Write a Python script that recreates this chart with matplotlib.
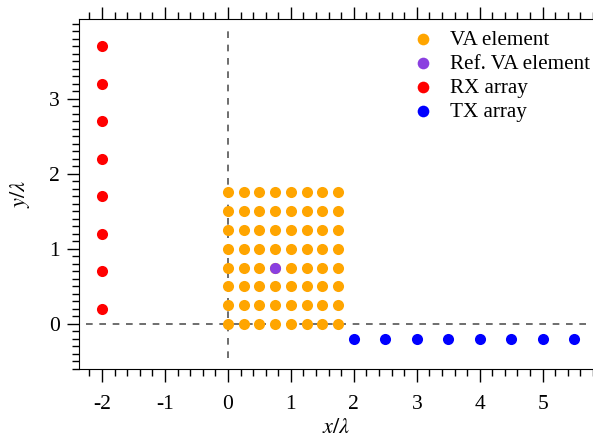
import numpy as np
import matplotlib.pyplot as plt
from matplotlib.ticker import MultipleLocator

plt.rcParams['font.family'] = ['Liberation Serif', 'DejaVu Serif']
plt.rcParams['mathtext.fontset'] = 'stix'
plt.rcParams['axes.unicode_minus'] = False

# virtual array grid (in wavelengths)
va_x = [0, 0.25, 0.5, 0.75, 1.0, 1.25, 1.5, 1.75]
va_y = [0, 0.25, 0.5, 0.75, 1.0, 1.25, 1.5, 1.75]
ref_xy = (0.75, 0.75)

# receive array along x = -2
rx_x = [-2] * 8
rx_y = [0.2, 0.7, 1.2, 1.7, 2.2, 2.7, 3.2, 3.7]

# transmit array along y = -0.2
tx_x = [2.0, 2.5, 3.0, 3.5, 4.0, 4.5, 5.0, 5.5]
tx_y = [-0.2] * 8

fig = plt.figure(figsize=(5.93, 4.36), dpi=100)
ax = fig.add_axes([0.1332, 0.1537, 0.8668, 0.8027])

# axis reference lines
ax.plot([0, 0], [-0.45, 3.95], ls=(0, (4, 4)), color='#555555', lw=1.2, zorder=1)
ax.plot([-2.25, 5.7], [0, 0], ls=(0, (4, 4)), color='#555555', lw=1.2, zorder=1)

gx, gy = np.meshgrid(va_x, va_y)
ms = 64
ax.scatter(gx.ravel(), gy.ravel(), s=ms, color='#FFA500', lw=0, label='VA element', zorder=3)
ax.scatter([ref_xy[0]], [ref_xy[1]], s=ms, color='#8A3FE0', lw=0, label='Ref. VA element', zorder=4)
ax.scatter(rx_x, rx_y, s=ms, color='#FF0000', lw=0, label='RX array', zorder=3)
ax.scatter(tx_x, tx_y, s=ms, color='#0000FF', lw=0, label='TX array', zorder=3)

ax.set_xlim(-2.366, 5.80)
ax.set_ylim(-0.6, 4.06)

ax.spines['right'].set_visible(False)
ax.xaxis.set_major_locator(MultipleLocator(1))
ax.xaxis.set_minor_locator(MultipleLocator(0.2))
ax.set_yticks([0, 1, 2, 3])
ax.yaxis.set_minor_locator(MultipleLocator(0.1))
ax.tick_params(which='both', direction='out', top=True, right=False, width=1)
ax.tick_params(which='major', length=9, labelsize=15.5)
ax.tick_params(which='minor', length=4.8)
ax.tick_params(axis='x', which='major', pad=10)
ax.tick_params(axis='y', which='major', pad=5)

ax.set_xlabel(r'$x/\lambda$', fontsize=16, labelpad=3)
ax.set_ylabel(r'$y/\lambda$', fontsize=16, labelpad=12)

ax.legend(loc='upper right', frameon=False, fontsize=15.2, handletextpad=0.25,
          labelspacing=0.2, borderaxespad=0.35, markerscale=1.05,
          bbox_to_anchor=(1.024, 1.014))

fig.savefig('out.png', dpi=100)
